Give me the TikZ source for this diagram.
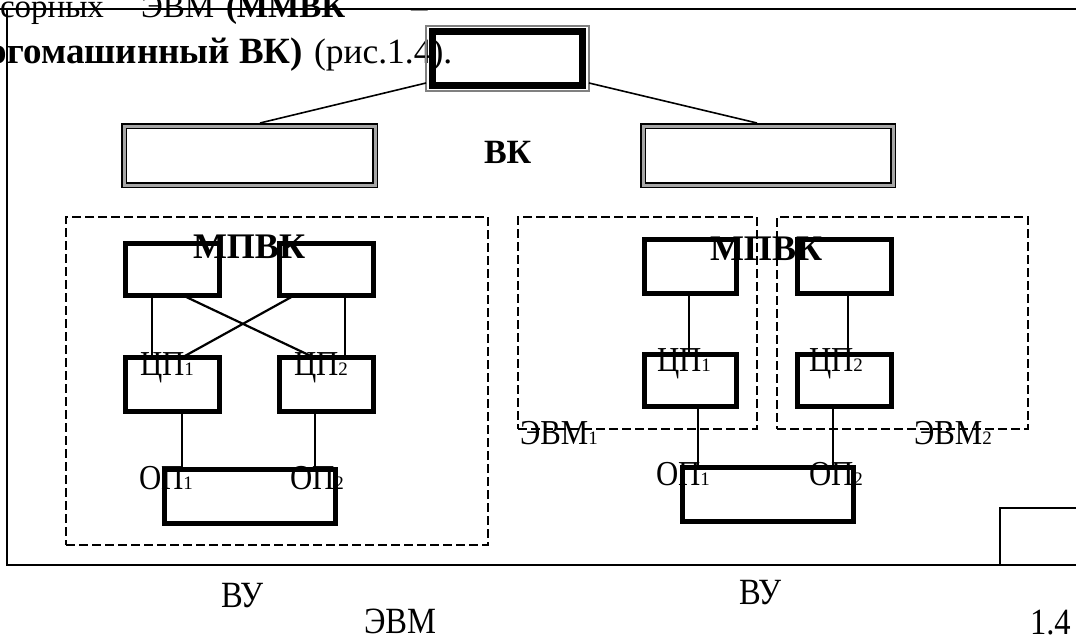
\documentclass[tikz,border=0pt]{standalone}
\usepackage{fontspec}
\setmainfont{Liberation Serif}
\newcommand\subn[1]{{\fontsize{19}{19}\selectfont #1}}
\newcommand\cx[1]{\scalebox{0.88}[1]{#1}}
\begin{document}
\begin{tikzpicture}[x=1pt,y=-1pt,
  every node/.style={inner sep=0pt, outer sep=0pt},
  blk/.style={draw, line width=5pt},
  dbl/.style={draw=black, line width=1.5pt, double=gray!70, double distance=3pt},
  dbox/.style={draw, line width=1.8pt, dash pattern=on 9pt off 4pt},
  thin/.style={line width=1.6pt},
  body/.style={font=\fontsize{33}{36}\selectfont, anchor=base west},
  bodyb/.style={font=\fontsize{35.5}{38}\selectfont, anchor=base west},
  lab/.style={font=\fontsize{35}{37}\selectfont, anchor=base west},
  big/.style={font=\fontsize{37}{39}\selectfont, anchor=base west},
  blab/.style={font=\fontsize{36}{38}\selectfont\bfseries, anchor=base west}]
\useasboundingbox (0,0) rectangle (1076,641);
% frame
\draw[line width=2pt] (0,9) -- (1076,9);
\draw[line width=2pt] (7,9) -- (7,565) -- (1076,565);
\draw[line width=1.5pt] (1078,508) -- (1000,508) -- (1000,565);
% body text
\node[body] (t1) at (0,17) {сорных};
\node[body] (t2) at (141,17) {ЭВМ};
\node[body,font=\fontsize{33}{36}\selectfont\bfseries] (t3) at (226,17) {(ММВК};
\node[body,font=\fontsize{33}{36}\selectfont\bfseries] (t4) at (411,17) {–};
\node[bodyb,font=\fontsize{37}{39}\selectfont\bfseries,anchor=base east] (t5) at (303,63) {огомашинный ВК)};
\node[bodyb] (t6) at (314,63) {(рис.1.4).};
% top box
\node[draw=gray, line width=1.5pt, minimum width=163pt, minimum height=65pt] (top) at (507.5,58.5) {};
\draw[line width=7pt] ([shift={(6.5pt,-5.5pt)}]top.north west) rectangle ([shift={(-7pt,6pt)}]top.south east);
% VK boxes
\node[dbl, minimum width=251pt, minimum height=59pt] (vk1) at (249.5,155.5) {};
\node[dbl, minimum width=250pt, minimum height=59pt] (vk2) at (768,155.5) {};
\draw[thin] ([yshift=-24.5pt]top.west) -- ([xshift=10.5pt,yshift=3pt]vk1.north);
\draw[thin] ([yshift=-24.5pt]top.east) -- ([xshift=-11pt,yshift=3pt]vk2.north);
\node[blab,font=\fontsize{34}{36}\selectfont\bfseries] (vk) at (484,163) {ВК};
% dashed boxes
\node[dbox, minimum width=422pt, minimum height=328pt] (mp1) at (277,381) {};
\node[dbox, minimum width=239pt, minimum height=212pt] (e1) at (637.5,323) {};
\node[dbox, minimum width=251pt, minimum height=212pt] (e2) at (902.5,323) {};
% left MPVK
\node[blk, minimum width=94pt, minimum height=52pt] (tl) at (172,269) {};
\node[blk, minimum width=94pt, minimum height=52pt] (tr) at (326,269) {};
\node[blk, minimum width=94pt, minimum height=54pt] (c1) at (172,384) {};
\node[blk, minimum width=94pt, minimum height=54pt] (c2) at (326,384) {};
\node[blk, minimum width=171pt, minimum height=54pt] (op) at (249.5,496) {};
\draw[thin] ([xshift=-20pt]tl.south) -- ([xshift=-20pt]c1.north);
\draw[thin] ([xshift=19pt]tr.south) -- ([xshift=19pt]c2.north);
\draw[line width=2.2pt] ([xshift=10pt]tl.south) -- ([xshift=-13pt]c2.north);
\draw[line width=2.2pt] ([xshift=-31pt]tr.south) -- ([xshift=11pt]c1.north);
\draw[thin] ([xshift=10pt]c1.south) -- ([xshift=10pt]c1.south |- op.north);
\draw[thin] ([xshift=-11pt]c2.south) -- ([xshift=-11pt]c2.south |- op.north);
% right
\node[blk, minimum width=92pt, minimum height=54pt] (ra) at (690,266) {};
\node[blk, minimum width=94pt, minimum height=54pt] (rb) at (844,266) {};
\node[blk, minimum width=92pt, minimum height=52pt] (rc1) at (690,380) {};
\node[blk, minimum width=94pt, minimum height=52pt] (rc2) at (844,380) {};
\node[blk, minimum width=171pt, minimum height=54pt] (rop) at (767.5,494) {};
\draw[thin] ([xshift=-1pt]ra.south) -- ([xshift=-1pt]rc1.north);
\draw[thin] ([xshift=4pt]rb.south) -- ([xshift=4pt]rc2.north);
\draw[thin] ([xshift=8pt]rc1.south) -- ([xshift=8pt]rc1.south |- rop.north);
\draw[thin] ([xshift=-11pt]rc2.south) -- ([xshift=-11pt]rc2.south |- rop.north);
% labels
\node[blab] (m1) at (193,258) {МПВК};
\node[blab] (m2) at (710,260) {МПВК};
\node[lab] (lc1) at (140,375) {\cx{ЦП}\subn{1}};
\node[lab] (lc2) at (294,375) {\cx{ЦП}\subn{2}};
\node[lab] (rl1) at (657,371) {\cx{ЦП}\subn{1}};
\node[lab] (rl2) at (809,371) {\cx{ЦП}\subn{2}};
\node[lab] (lo1) at (139,489) {\cx{ОП}\subn{1}};
\node[lab] (lo2) at (290,489) {\cx{ОП}\subn{2}};
\node[lab] (ro1) at (656,485) {\cx{ОП}\subn{1}};
\node[lab] (ro2) at (809,485) {\cx{ОП}\subn{2}};
\node[lab] (le1) at (520,444) {\cx{ЭВМ}\subn{1}};
\node[lab] (le2) at (914,444) {\cx{ЭВМ}\subn{2}};
\node[big] (vu1) at (221,607) {\cx{ВУ}};
\node[big] (evm) at (364,633) {\cx{ЭВМ}};
\node[big] (vu2) at (739,604) {\cx{ВУ}};
\node[big] (n14) at (1030,634) {\cx{1.4}};
\end{tikzpicture}
\end{document}
